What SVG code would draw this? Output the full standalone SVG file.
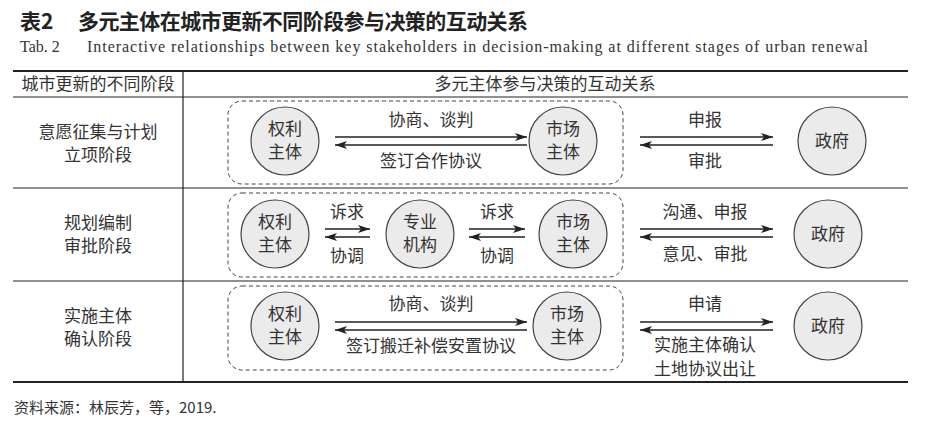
<svg xmlns="http://www.w3.org/2000/svg" width="936" height="431" viewBox="0 0 936 431">
<defs>
<marker id="ah" viewBox="0 0 12 8" refX="12" refY="4" markerWidth="12" markerHeight="8" markerUnits="userSpaceOnUse" orient="auto"><path d="M0,0 L12,4 L0,8 L3,4 Z" fill="#222"/></marker>
</defs>
<style>
.t{font-family:"Noto Sans CJK SC","Liberation Serif",serif;font-size:17px;fill:#333;text-anchor:middle}
circle{fill:#ebebeb;stroke:#444;stroke-width:1.2}
.box{fill:none;stroke:#444;stroke-width:1;stroke-dasharray:4,3}
.a{stroke:#222;stroke-width:1.3;fill:none;marker-end:url(#ah)}
.l{stroke:#222;stroke-width:1.2}
.h{font-family:"Noto Sans CJK SC",sans-serif;font-size:21px;font-weight:bold;fill:#222}
.e{font-family:"Liberation Serif",serif;font-size:16px;fill:#333}
</style>
<rect width="936" height="431" fill="#fff"/>
<text class="h" x="20" y="29">表2</text>
<text class="h" x="78" y="29" textLength="450">多元主体在城市更新不同阶段参与决策的互动关系</text>
<text class="e" x="20" y="52">Tab. 2</text>
<text class="e" x="87" y="52" textLength="781">Interactive relationships between key stakeholders in decision-making at different stages of urban renewal</text>
<g id="table">
<line x1="13" y1="71" x2="908" y2="71" stroke="#222" stroke-width="2"/>
<line x1="13" y1="97" x2="908" y2="97" class="l"/>
<line x1="13" y1="188" x2="908" y2="188" class="l"/>
<line x1="13" y1="281" x2="908" y2="281" class="l"/>
<line x1="13" y1="382" x2="908" y2="382" stroke="#222" stroke-width="2"/>
<line x1="183" y1="71" x2="183" y2="382" class="l"/>
<text class="t" x="98" y="90">城市更新的不同阶段</text>
<text class="t" x="545" y="90">多元主体参与决策的互动关系</text>
<text class="t" x="98" y="138">意愿征集与计划</text>
<text class="t" x="98" y="161">立项阶段</text>
<text class="t" x="98" y="229">规划编制</text>
<text class="t" x="98" y="252">审批阶段</text>
<text class="t" x="98" y="322">实施主体</text>
<text class="t" x="98" y="345">确认阶段</text>
</g>
<g id="boxes">
<rect class="box" x="228" y="101" width="395" height="83" rx="14"/>
<rect class="box" x="228" y="193" width="395" height="84" rx="14"/>
<rect class="box" x="228" y="286" width="395" height="84" rx="14"/>
</g>
<g id="n1a"><circle cx="285" cy="141" r="34"/><text class="t" x="285" y="135">权利</text><text class="t" x="285" y="158">主体</text></g>
<g id="n1b"><circle cx="563" cy="141" r="34"/><text class="t" x="563" y="135">市场</text><text class="t" x="563" y="158">主体</text></g>
<g id="n1c"><circle cx="832" cy="141" r="34"/><text class="t" x="832" y="147">政府</text></g>
<g id="n2a"><circle cx="275" cy="234" r="34"/><text class="t" x="275" y="228">权利</text><text class="t" x="275" y="251">主体</text></g>
<g id="n2b"><circle cx="420" cy="234" r="34"/><text class="t" x="420" y="228">专业</text><text class="t" x="420" y="251">机构</text></g>
<g id="n2c"><circle cx="573" cy="234" r="34"/><text class="t" x="573" y="228">市场</text><text class="t" x="573" y="251">主体</text></g>
<g id="n2d"><circle cx="828" cy="234" r="34"/><text class="t" x="828" y="240">政府</text></g>
<g id="n3a"><circle cx="285" cy="326" r="34"/><text class="t" x="285" y="320">权利</text><text class="t" x="285" y="343">主体</text></g>
<g id="n3b"><circle cx="567" cy="326" r="34"/><text class="t" x="567" y="320">市场</text><text class="t" x="567" y="343">主体</text></g>
<g id="n3c"><circle cx="828" cy="326" r="34"/><text class="t" x="828" y="332">政府</text></g>
<g id="connectors">
<line class="a" x1="335" y1="137" x2="527" y2="137"/>
<line class="a" x1="527" y1="145" x2="335" y2="145"/>
<line class="a" x1="640" y1="137" x2="773" y2="137"/>
<line class="a" x1="773" y1="145" x2="640" y2="145"/>
<line class="a" x1="325" y1="229" x2="370" y2="229"/>
<line class="a" x1="370" y1="237" x2="325" y2="237"/>
<line class="a" x1="469" y1="229" x2="525" y2="229"/>
<line class="a" x1="525" y1="237" x2="469" y2="237"/>
<line class="a" x1="640" y1="229" x2="773" y2="229"/>
<line class="a" x1="773" y1="237" x2="640" y2="237"/>
<line class="a" x1="335" y1="322" x2="527" y2="322"/>
<line class="a" x1="527" y1="330" x2="335" y2="330"/>
<line class="a" x1="640" y1="322" x2="773" y2="322"/>
<line class="a" x1="773" y1="330" x2="640" y2="330"/>
</g>
<g id="labels">
<text class="t" x="431" y="126">协商、谈判</text>
<text class="t" x="431" y="167">签订合作协议</text>
<text class="t" x="705" y="126">申报</text>
<text class="t" x="705" y="167">审批</text>
<text class="t" x="347" y="218">诉求</text>
<text class="t" x="347" y="262">协调</text>
<text class="t" x="497" y="218">诉求</text>
<text class="t" x="497" y="262">协调</text>
<text class="t" x="705" y="218">沟通、申报</text>
<text class="t" x="705" y="260">意见、审批</text>
<text class="t" x="431" y="310">协商、谈判</text>
<text class="t" x="431" y="352">签订搬迁补偿安置协议</text>
<text class="t" x="705" y="310">申请</text>
<text class="t" x="705" y="351">实施主体确认</text>
<text class="t" x="705" y="375">土地协议出让</text>
</g>
<text x="14" y="413" style="font-family:'Noto Sans CJK SC',serif;font-size:15px;fill:#333">资料来源：林辰芳，等，2019.</text>
</svg>
